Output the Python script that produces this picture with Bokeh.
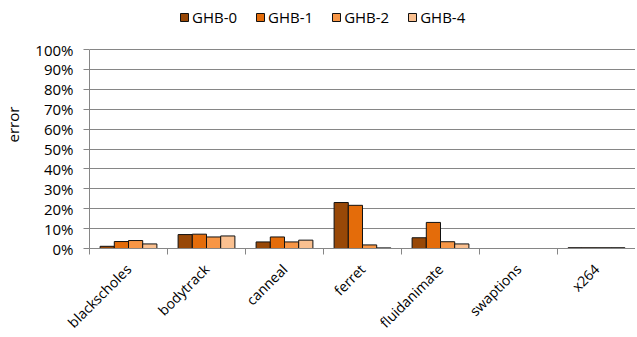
import numpy as np
from bokeh.plotting import figure
from bokeh.models import (ColumnDataSource, Range1d, FixedTicker, SingleIntervalTicker,
                          PrintfTickFormatter, Legend, LegendItem)
from bokeh.embed import file_html
from bokeh.resources import INLINE

categories = ["blackscholes", "bodytrack", "canneal", "ferret", "fluidanimate", "swaptions", "x264"]
series = ["GHB-0", "GHB-1", "GHB-2", "GHB-4"]
ghb0 = [1.1, 7.0, 3.3, 23.1, 5.4, 0.0, 0.4]
ghb1 = [3.5, 7.2, 5.8, 21.7, 13.1, 0.0, 0.4]
ghb2 = [4.0, 5.8, 3.3, 1.8, 3.4, 0.0, 0.4]
ghb4 = [2.3, 6.3, 4.2, 0.3, 2.3, 0.0, 0.4]
values = [ghb0, ghb1, ghb2, ghb4]
colors = ["#984807", "#E46C0A", "#F79646", "#FAC090"]

FONT = "Open Sans"
GRAY = "#868686"

PLOT_H = 199      # pixels from 0% to 100%
TOP_SPACE = 49    # pixels above 100% kept for the legend
FRAME_H = PLOT_H + TOP_SPACE
Y_MAX = 100.0
y_end = Y_MAX * FRAME_H / PLOT_H

p = figure(frame_width=546, frame_height=FRAME_H, output_backend="svg", toolbar_location=None,
           x_range=Range1d(0, len(categories)), y_range=Range1d(0, y_end),
           min_border_left=86, min_border_right=0, min_border_top=0, min_border_bottom=0)
p.outline_line_color = None

bar_w = 0.182
offsets = [(-1.5 + j) * bar_w for j in range(len(series))]
centers = np.arange(len(categories)) + 0.5

renderers = []
for j, name in enumerate(series):
    vals = np.array(values[j], dtype=float)
    src = ColumnDataSource(dict(x=centers + offsets[j], top=vals,
                                la=np.where(vals > 0, 1.0, 0.0)))
    r = p.vbar(x="x", top="top", width=bar_w, bottom=0, source=src,
               fill_color=colors[j], line_color="#111111", line_width=1, line_alpha="la")
    renderers.append(r)

# x axis: labels at centers, ticks at category boundaries
xa = p.xaxis[0]
xa.ticker = FixedTicker(ticks=list(centers), minor_ticks=list(range(len(categories) + 1)))
xa.major_label_overrides = {float(c): cat for c, cat in zip(centers, categories)}
xa.major_tick_out = 0
xa.major_tick_in = 0
xa.minor_tick_out = 6
xa.minor_tick_in = 0
xa.minor_tick_line_color = GRAY
xa.axis_line_color = GRAY
xa.major_label_orientation = np.pi / 4
xa.major_label_text_font = FONT
xa.major_label_text_font_size = "14px"
xa.major_label_text_color = "#000000"
xa.major_label_standoff = 12

ya = p.yaxis[0]
ya.ticker = SingleIntervalTicker(interval=10, num_minor_ticks=0)
ya.bounds = (0, Y_MAX)
ya.formatter = PrintfTickFormatter(format="%d%%")
ya.major_tick_out = 6
ya.major_tick_in = 0
ya.major_tick_line_color = GRAY
ya.axis_line_color = GRAY
ya.major_label_standoff = 10
ya.major_label_text_font = FONT
ya.major_label_text_font_size = "15px"
ya.major_label_text_color = "#000000"
ya.axis_label = "error"
ya.axis_label_text_font = FONT
ya.axis_label_text_font_size = "15px"
ya.axis_label_text_font_style = "normal"
ya.axis_label_text_color = "#000000"
ya.axis_label_standoff = 9

p.xgrid.grid_line_color = None
p.ygrid.ticker = SingleIntervalTicker(interval=10, num_minor_ticks=0)
p.ygrid.bounds = (0, Y_MAX)
p.ygrid.grid_line_color = GRAY
p.ygrid.grid_line_width = 1

# legend location tuple = bottom-left of legend, measured from frame bottom-left
legend = Legend(items=[LegendItem(label=s, renderers=[r]) for s, r in zip(series, renderers)],
                orientation="horizontal", location=(90, FRAME_H - 27), padding=0, margin=0,
                border_line_alpha=0, background_fill_alpha=0,
                glyph_width=10, glyph_height=10, label_standoff=3, spacing=18,
                label_height=10, label_text_font=FONT, label_text_font_size="15px",
                label_text_color="#000000")
p.add_layout(legend, "center")

open("out.html", "w").write(file_html(p, INLINE))
